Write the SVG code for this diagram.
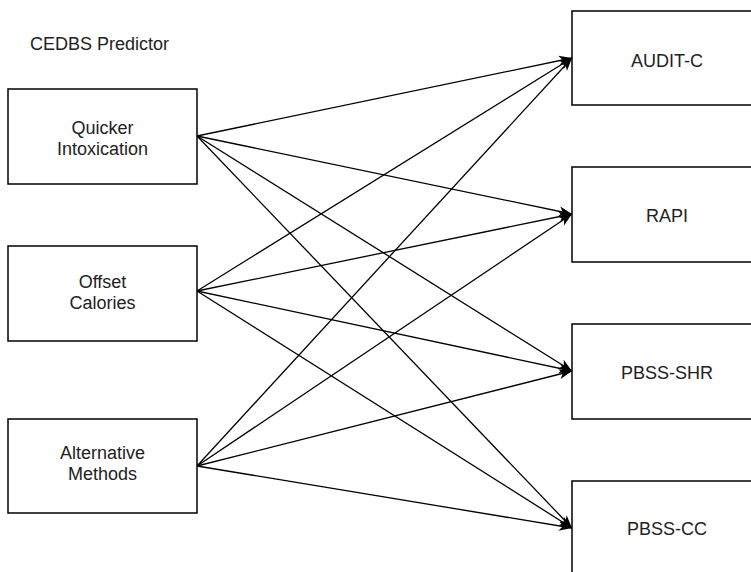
<svg xmlns="http://www.w3.org/2000/svg" width="751" height="572" viewBox="0 0 751 572">
<style>
.box{fill:#fff;stroke:#000;stroke-width:1.5}
.t{font-family:"Liberation Sans",Arial,sans-serif;font-size:18px;fill:#222;text-anchor:middle}
.e{fill:none;stroke:#000;stroke-width:1.3}
</style>
<defs>
<marker id="arr" markerUnits="userSpaceOnUse" markerWidth="14" markerHeight="12" refX="13" refY="6" orient="auto">
<path d="M0,1 L13,6 L0,11 L3.5,6 z" fill="#000"/>
</marker>
</defs>
<rect width="751" height="572" fill="#fff"/>
<text x="30" y="49.5" class="t" style="text-anchor:start">CEDBS Predictor</text>
<g id="connectors">
<line class="e" x1="197" y1="136" x2="572" y2="58" marker-end="url(#arr)"/>
<line class="e" x1="197" y1="136" x2="572" y2="214" marker-end="url(#arr)"/>
<line class="e" x1="197" y1="136" x2="572" y2="371" marker-end="url(#arr)"/>
<line class="e" x1="197" y1="136" x2="572" y2="528" marker-end="url(#arr)"/>
<line class="e" x1="197" y1="291" x2="572" y2="58" marker-end="url(#arr)"/>
<line class="e" x1="197" y1="291" x2="572" y2="214" marker-end="url(#arr)"/>
<line class="e" x1="197" y1="291" x2="572" y2="371" marker-end="url(#arr)"/>
<line class="e" x1="197" y1="291" x2="572" y2="528" marker-end="url(#arr)"/>
<line class="e" x1="197" y1="466" x2="572" y2="58" marker-end="url(#arr)"/>
<line class="e" x1="197" y1="466" x2="572" y2="214" marker-end="url(#arr)"/>
<line class="e" x1="197" y1="466" x2="572" y2="371" marker-end="url(#arr)"/>
<line class="e" x1="197" y1="466" x2="572" y2="528" marker-end="url(#arr)"/>
</g>
<g id="quicker">
<rect class="box" x="8" y="89" width="189" height="95"/>
<text class="t" x="102.5" y="133.5">Quicker</text>
<text class="t" x="102.5" y="154.5">Intoxication</text>
</g>
<g id="offset">
<rect class="box" x="8" y="246" width="189" height="95"/>
<text class="t" x="102.5" y="287.5">Offset</text>
<text class="t" x="102.5" y="308.5">Calories</text>
</g>
<g id="alternative">
<rect class="box" x="8" y="419" width="189" height="94"/>
<text class="t" x="102.5" y="458.5">Alternative</text>
<text class="t" x="102.5" y="479.5">Methods</text>
</g>
<g id="audit">
<rect class="box" x="572" y="11" width="190" height="94"/>
<text class="t" x="667" y="66.5">AUDIT-C</text>
</g>
<g id="rapi">
<rect class="box" x="572" y="167" width="190" height="95"/>
<text class="t" x="667" y="221.5">RAPI</text>
</g>
<g id="pbss-shr">
<rect class="box" x="572" y="324" width="190" height="95"/>
<text class="t" x="667" y="378.5">PBSS-SHR</text>
</g>
<g id="pbss-cc">
<rect class="box" x="572" y="481" width="190" height="95"/>
<text class="t" x="667" y="534.5">PBSS-CC</text>
</g>
</svg>
